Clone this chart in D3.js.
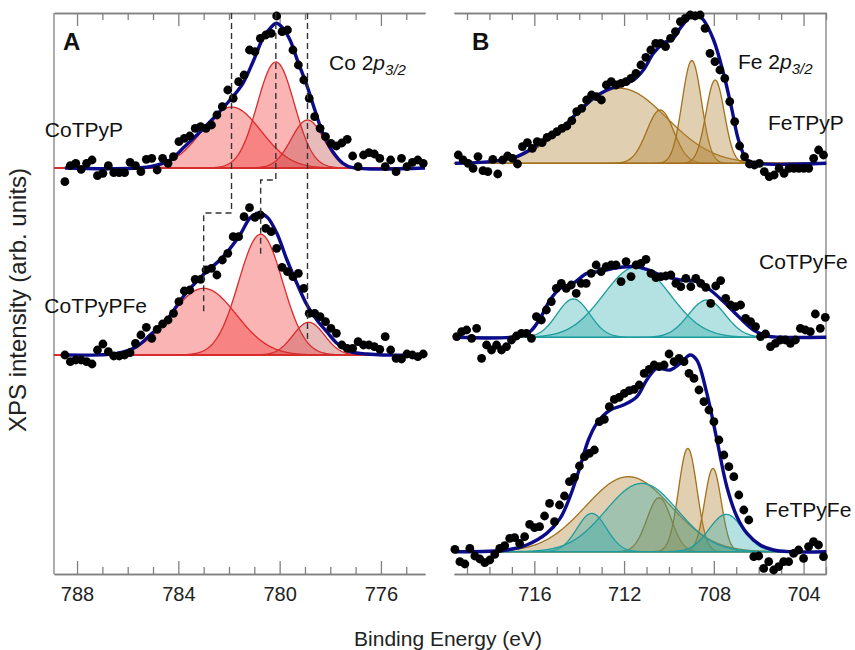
<!DOCTYPE html>
<html>
<head>
<meta charset="utf-8">
<script src="https://cdn.jsdelivr.net/npm/d3@7"></script>
<style>
  body { margin: 0; background: #fff; }
  text { font-family: "Liberation Sans", Arial, Helvetica, sans-serif; }
</style>
</head>
<body>
<div id="chart"></div>
<script>
// ---------- data (binding energy in eV, intensity in arb. units) ----------
// measured points: first energy, energy step, intensities
var coPStart = 788.48, coPStep = 0.2144;
var coPCounts = [-13.7, 2.3, 4.7, -1.3, 4.7, 8, -7.7, -5.3, 2.3, -4.7, -4.7, -4.7, 5.7, 2.3, -3.7, 8.7, 9.7, -2, 9.7, 4.7,
  11.3, 26.3, 29.7, 32, 39.7, 41.3, 39.7, 43, 53, 61.3, 78, 69.7, 86.3, 93, 118, 116.3, 129.7, 133, 134.7, 152,
  136.3, 138, 118, 103, 88, 69.7, 51.3, 39.7, 31.3, 24.7, 22, 25, 28.7, 12, 1.3, 13, 15.3, 14, 9.7, 1.3,
  8, -3.7, 9.7, 1.3, 5.7, 8, 4.7];

var coPFeStart = 788.48, coPFeStep = 0.2144;
var coPFeCounts = [0, -6.7, -5, -5, -6.7, -9, 5, 11, 3.3, -1, -1, 0, 2.3, 11.7, 20, 27.7, 16.7, 25.7, 31, 35,
  41.7, 53.3, 64, 65, 75.7, 75.7, 85, 86.7, 80, 95, 101.7, 118.3, 118.3, 138.3, 147.3, 137.7, 140, 126.7, 123.3, 106.7,
  87.7, 83.3, 78.3, 81.7, 66.7, 41.7, 41.7, 38.3, 33.3, 26.7, 21.7, 10, 6.7, 6.7, 13.3, 10, 10, 8.3, 5.7, 18.3,
  5, -3.3, -4, 1, 0, -1.7, 1];

var feTPyPStart = 719.39, feTPyPStep = 0.22;
var feTPyPCounts = [8.3, 3.3, 0, -5, 6.7, -7.3, -8.3, 4, -10.7, 3.3, 7.3, 5, -0.7, 16.7, 20.7, 15, 21.7, 20.7, 26, 28.3,
  31.7, 35, 37.3, 42.7, 51.7, 55, 63.3, 68.3, 66.7, 63.3, 78.3, 81.7, 78.3, 80, 81.7, 85, 90, 98.3, 106, 113.3,
  120, 120, 116.7, 125, 131.7, 141.7, 145, 148.3, 147.3, 148.3, 135, 110, 101.7, 93.3, 85, 61.7, 41.7, 17.3, 6.7, -0.7,
  -1.7, 0, -8.3, -13.3, -11.7, -5, -10, -5, -5, -5, -5, -5, 5, 13.3, 8.3];

var coTPyFeStart = 719.46, coTPyFeStep = 0.222;
var coTPyFeCounts = [0.7, 5.7, 7.3, -1, 9, -21, -7.7, -12.7, -7.7, -12.7, -9.3, -2.7, 1.3, 4, 4, -1, 20.7, 17.3, 27.3, 35.7,
  49, 54, 49, 52.3, 44, 54, 54, 64, 72.3, 65.7, 70.7, 72.3, 72.3, 55.7, 75.7, 60.7, 72.3, 74, 78, 64,
  59.7, 60.7, 61.3, 62.3, 54, 50.7, 59, 50.7, 59, 54, 50, 34, 51.3, 56.7, 39, 32.3, 30.7, 32.3, 19, 15.7,
  10.7, 0.7, 3.3, -9.3, -6, -2.7, -2.7, -6, -2.7, 9, 7.3, 5.7, 23.3, 9, 20];

var feTPyFeStart = 719.54, feTPyFeStep = 0.222;
var feTPyFeCounts = [2.3, -10, -12.3, 3.3, -4.3, -7.3, -11, -8.3, -2.7, 3.3, 6, 13.3, 14, 8.3, 15, 27.3, 24, 25, 35.7, 48.3,
  30, 46.7, 55.7, 70, 74.3, 85.7, 95, 98.3, 101.7, 130, 132.3, 145, 152.3, 154.3, 158.3, 161, 162.3, 166.7, 178.3, 182.3,
  186.7, 185, 186.7, 197.7, 190, 193.3, 190, 178.3, 173.3, 161.7, 150, 141.7, 130, 111.7, 96.7, 85, 75, 56.7, 41.7, 31.7,
  -5, -4.3, -16.7, -10, -18.3, -15, -10, -10, -1.7, 1.7, -6.7, 5, 10, 6.7, -5];

// fitted envelopes
var coPEnvE = [788.48, 785.12, 784.33, 783.82, 783.15, 782.49, 781.96, 781.45, 781.05, 780.66, 780.32, 780.12, 779.87, 779.59, 779.28, 778.93, 778.61, 778.29, 777.90, 777.50, 777.11, 774.26];
var coPEnvI = [0, 1.3, 8, 19.7, 36, 53, 68, 84.7, 106.3, 129.7, 141.3, 144.7, 139.7, 128, 106.3, 83, 58, 34.7, 16.3, 4.7, 0.3, 0];
var coPFeEnvE = [788.48, 786.43, 785.65, 785.12, 784.46, 783.81, 783.03, 782.24, 781.57, 781.17, 780.86, 780.50, 780.11, 779.71, 779.32, 778.92, 778.53, 778.13, 777.74, 777.22, 776.55, 775.92, 774.26];
var coPFeEnvI = [0, 1.7, 8.3, 20, 35, 58.3, 80, 98, 120, 137, 141.7, 138, 121.7, 95, 71.7, 50, 35, 23, 11.7, 3.3, 1, 0, 0];
var feTPyPEnvE = [719.54, 717.97, 716.78, 715.74, 714.85, 714.11, 713.37, 712.77, 712.18, 711.58, 711.14, 710.69, 710.25, 709.80, 709.50, 709.13, 708.83, 708.46, 708.01, 707.57, 707.19, 706.90, 706.52, 706.08, 702.99];
var feTPyPEnvI = [0, 1.7, 6.7, 20, 33.3, 50, 65, 73.3, 78.3, 83.3, 93.3, 110, 120, 125, 135, 145, 150, 143.3, 123.3, 90, 53.3, 23.3, 3.3, 0, 0];
var coTPyFeEnvE = [719.46, 716.78, 716.19, 715.74, 715.30, 714.85, 714.26, 713.66, 713.07, 712.47, 711.58, 710.99, 710.39, 709.50, 708.76, 708.16, 707.57, 706.82, 706.23, 705.63, 705.04, 702.99];
var coTPyFeEnvI = [0, 0.7, 5.7, 19, 37.3, 49, 54, 64, 65.7, 69, 70.7, 68, 62.3, 57.3, 55.7, 47.3, 35.7, 19, 7.3, 1.3, 0, 0];
var feTPyFeEnvE = [719.54, 717.23, 716.34, 715.45, 714.85, 714.41, 713.96, 713.59, 713.22, 712.62, 712.03, 711.43, 710.99, 710.54, 709.95, 709.50, 709.05, 708.76, 708.31, 707.86, 707.42, 706.97, 706.52, 705.93, 705.34, 704.59, 702.99];
var feTPyFeEnvI = [0, 1.7, 6.7, 18.3, 33.3, 55, 85, 111.7, 128.3, 141.7, 146.7, 155, 171.7, 183.3, 181.7, 188.3, 196.7, 191.7, 158.3, 111.7, 65, 35, 18.3, 6.7, 1.7, 0, 0];

// fit components: centre (eV), height, gaussian width (eV)
var coPCentres = [781.9, 780.15, 778.9],   coPHeights = [61, 106, 48],        coPWidths = [1.17, 0.73, 0.64];
var coPFeCentres = [783.0, 780.75, 778.85], coPFeHeights = [66.7, 120.7, 32.7], coPFeWidths = [1.29, 0.87, 0.62];
var feTPyPCentres = [712.18, 710.39, 708.98, 707.94], feTPyPHeights = [75, 53.3, 102.7, 83.3], feTPyPWidths = [2.08, 0.6, 0.43, 0.41];
var coTPyFeCentres = [714.26, 711.43, 708.31], coTPyFeHeights = [38.3, 70.7, 37.3], coTPyFeWidths = [0.73, 1.48, 0.82];
var feTPyFeFeCentres = [711.81, 710.44, 709.16, 708.04], feTPyFeFeHeights = [75, 54, 103.3, 83.3], feTPyFeFeWidths = [1.9, 0.54, 0.41, 0.37];
var feTPyFeCoCentres = [713.44, 711.21, 707.45], feTPyFeCoHeights = [38.3, 68.3, 37.3], feTPyFeCoWidths = [0.66, 1.6, 0.76];

// vertical offsets of the stacked spectra
var offsetsA = [406, 219];
var offsetsB = [410.7, 236.7, 22.3];

// dashed guides in panel A: energy in upper / lower spectrum, level of jog, level of end
var guideTopE = [781.9, 780.15, 778.9];
var guideBotE = [783.0, 780.75, 778.9];
var guideJog = [361, 394, 234];
var guideEnd = [262, 319, 234];

// ticks
var ticksA = [788, 784, 780, 776];
var ticksB = [716, 712, 708, 704];

// ---------- drawing ----------
var W = 855, H = 650;
var svg = d3.select('#chart').append('svg').attr('width', W).attr('height', H);

var y = d3.scaleLinear().domain([0, 561]).range([574, 13]);
var xA = d3.scaleLinear().domain([788.91, 774.26]).range([54, 425]);
var xB = d3.scaleLinear().domain([719.58, 703.0]).range([454, 826]);

var axisGrey = '#808080';

function gauss(e, c, h, w) { return h * Math.exp(-0.5 * Math.pow((e - c) / w, 2)); }

function points(start, step, counts) {
  return counts.map(function(v, i) { return { e: start - i * step, v: v }; });
}

function drawComponents(x, offset, centres, heights, widths, fills, opac, stroke) {
  var d = x.domain();
  var es = d3.range(d[1], d[0] + 0.001, 0.03);
  centres.forEach(function(c, i) {
    var area = d3.area()
      .x(function(e) { return x(e); })
      .y0(y(offset))
      .y1(function(e) { return y(offset + gauss(e, c, heights[i], widths[i])); });
    svg.append('path').datum(es)
      .attr('d', area)
      .attr('fill', fills[i])
      .attr('fill-opacity', opac)
      .attr('stroke', stroke)
      .attr('stroke-width', 1.3);
  });
}

function drawEnvelope(x, offset, es, is) {
  var line = d3.line()
    .x(function(d) { return x(d[0]); })
    .y(function(d) { return y(offset + d[1]); })
    .curve(d3.curveCatmullRom.alpha(0.5));
  svg.append('path').datum(d3.zip(es, is))
    .attr('d', line)
    .attr('fill', 'none')
    .attr('stroke', '#0c0c8a')
    .attr('stroke-width', 3.4)
    .attr('stroke-linejoin', 'round');
}

function drawDots(x, offset, pts) {
  svg.append('g').selectAll('circle')
    .data(pts)
  .enter().append('circle')
    .attr('cx', function(d) { return x(d.e); })
    .attr('cy', function(d) { return y(offset + d.v); })
    .attr('r', 4.4)
    .attr('fill', '#000');
}

function drawAxes(x, majors) {
  var d = x.domain();
  var minors = d3.range(Math.ceil(d[1]), Math.floor(d[0]) + 1).filter(function(v) { return majors.indexOf(v) < 0; });
  var groups = [
    svg.append('g').attr('transform', 'translate(0,' + y(0) + ')')
      .call(d3.axisBottom(x).tickValues(majors).tickSize(-13).tickSizeOuter(0).tickPadding(13).tickFormat(d3.format('d'))),
    svg.append('g').attr('transform', 'translate(0,' + y(0) + ')')
      .call(d3.axisBottom(x).tickValues(minors).tickSize(-7).tickSizeOuter(0).tickFormat('')),
    svg.append('g').attr('transform', 'translate(0,' + y(561) + ')')
      .call(d3.axisTop(x).tickValues(majors).tickSize(-13).tickSizeOuter(0).tickFormat('')),
    svg.append('g').attr('transform', 'translate(0,' + y(561) + ')')
      .call(d3.axisTop(x).tickValues(minors).tickSize(-7).tickSizeOuter(0).tickFormat(''))
  ];
  groups.forEach(function(g) {
    g.selectAll('.domain, line').attr('stroke', axisGrey).attr('stroke-width', 1.3);
    g.selectAll('text').attr('fill', '#222').style('font-size', '20px')
      .style('font-family', '"Liberation Sans", Arial, sans-serif');
  });
}

// panel A
drawAxes(xA, ticksA);
svg.append('line').attr('x1', xA.range()[0]).attr('x2', xA.range()[0])
  .attr('y1', y(0)).attr('y2', y(561)).attr('stroke', axisGrey).attr('stroke-width', 1.3);

// panel B
drawAxes(xB, ticksB);
svg.append('line').attr('x1', xB.range()[1]).attr('x2', xB.range()[1])
  .attr('y1', y(0)).attr('y2', y(561)).attr('stroke', axisGrey).attr('stroke-width', 1.3);

var redFills = ['#f02828', '#f02828', '#be3c3c'];
var brownFills = ['#b4873c', '#b4873c', '#b4873c', '#b4873c'];
var tealFills = ['#28aaaa', '#28aaaa', '#28aaaa'];

// CoTPyP
drawComponents(xA, offsetsA[0], coPCentres, coPHeights, coPWidths, redFills, 0.35, '#d92b2b');
drawEnvelope(xA, offsetsA[0], coPEnvE, coPEnvI);
drawDots(xA, offsetsA[0], points(coPStart, coPStep, coPCounts));

// CoTPyPFe
drawComponents(xA, offsetsA[1], coPFeCentres, coPFeHeights, coPFeWidths, redFills, 0.35, '#d92b2b');
drawEnvelope(xA, offsetsA[1], coPFeEnvE, coPFeEnvI);
drawDots(xA, offsetsA[1], points(coPFeStart, coPFeStep, coPFeCounts));

// guides
guideTopE.forEach(function(e, i) {
  var path = d3.line()([
    [xA(e), y(561)], [xA(e), y(guideJog[i])],
    [xA(guideBotE[i]), y(guideJog[i])], [xA(guideBotE[i]), y(guideEnd[i])]
  ]);
  svg.append('path').attr('d', path)
    .attr('fill', 'none').attr('stroke', '#333').attr('stroke-width', 1.4)
    .attr('stroke-dasharray', '6,4');
});

// FeTPyP
drawComponents(xB, offsetsB[0], feTPyPCentres, feTPyPHeights, feTPyPWidths, brownFills, 0.4, '#a3711c');
drawEnvelope(xB, offsetsB[0], feTPyPEnvE, feTPyPEnvI);
drawDots(xB, offsetsB[0], points(feTPyPStart, feTPyPStep, feTPyPCounts));

// CoTPyFe
drawComponents(xB, offsetsB[1], coTPyFeCentres, coTPyFeHeights, coTPyFeWidths, tealFills, 0.35, '#1c9c9c');
drawEnvelope(xB, offsetsB[1], coTPyFeEnvE, coTPyFeEnvI);
drawDots(xB, offsetsB[1], points(coTPyFeStart, coTPyFeStep, coTPyFeCounts));

// FeTPyFe
drawComponents(xB, offsetsB[2], feTPyFeFeCentres, feTPyFeFeHeights, feTPyFeFeWidths, brownFills, 0.4, '#a3711c');
drawComponents(xB, offsetsB[2], feTPyFeCoCentres, feTPyFeCoHeights, feTPyFeCoWidths, tealFills, 0.35, '#1c9c9c');
drawEnvelope(xB, offsetsB[2], feTPyFeEnvE, feTPyFeEnvI);
drawDots(xB, offsetsB[2], points(feTPyFeStart, feTPyFeStep, feTPyFeCounts));

// ---------- text ----------
function label(x, yy, txt, size, anchor, weight) {
  return svg.append('text').attr('x', x).attr('y', yy)
    .attr('text-anchor', anchor || 'start')
    .style('font-size', size + 'px')
    .style('font-weight', weight || 'normal')
    .attr('fill', '#111')
    .text(txt);
}

label(63, 50, 'A', 24, 'start', 'bold');
label(472, 50, 'B', 24, 'start', 'bold');

function orbital(x, yy, el) {
  var t = svg.append('text').attr('x', x).attr('y', yy).style('font-size', '21px').attr('fill', '#111');
  t.append('tspan').text(el + ' 2');
  t.append('tspan').style('font-style', 'italic').text('p');
  t.append('tspan').attr('dy', 5).style('font-size', '15px').style('font-style', 'italic').text('3/2');
}
orbital(329, 70, 'Co');
orbital(738, 68.5, 'Fe');

label(123, 137, 'CoTPyP', 21, 'end');
label(147, 313, 'CoTPyPFe', 21, 'end');
label(768, 130, 'FeTPyP', 21);
label(759, 269, 'CoTPyFe', 21);
label(765, 517, 'FeTPyFe', 21);

label(448, 646, 'Binding Energy (eV)', 21, 'middle').attr('fill', '#222');
label(0, 0, 'XPS intensity (arb. units)', 24, 'middle')
  .attr('fill', '#222')
  .attr('transform', 'translate(26,300) rotate(-90)');
</script>
</body>
</html>
